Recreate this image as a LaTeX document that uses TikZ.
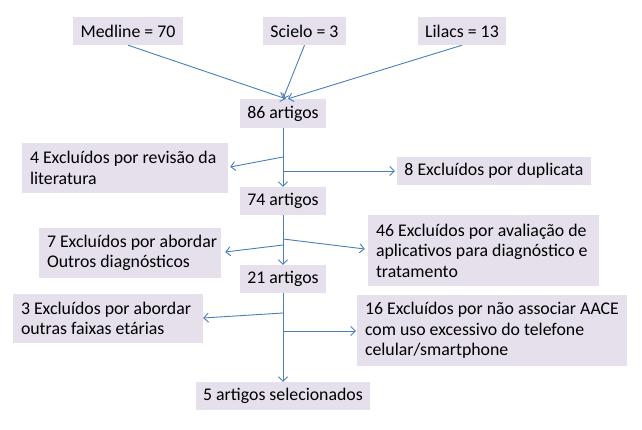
\documentclass[tikz,border=0pt]{standalone}
\usepackage{fontspec}
\setmainfont{Carlito}
\usetikzlibrary{arrows.meta,calc}
\definecolor{boxfill}{HTML}{E6E0EC}
\definecolor{arrowblue}{HTML}{4A7EBB}
\newcommand{\boxline}[1]{\mbox{#1}}
\begin{document}
\begin{tikzpicture}[x=1pt,y=-1pt,
  box/.style={fill=boxfill, draw=none, text=black, font=\fontsize{17.8}{20.5}\selectfont, inner ysep=0pt},
  sbox/.style n args={2}{box, inner xsep=0pt, align=center, minimum width=#1, minimum height=#2},
  mbox/.style n args={2}{box, inner xsep=8pt, align=flush left, text width=#1, minimum height=#2},
  conn/.style={draw=arrowblue, line width=0.9pt, -{Straight Barb[length=4.5pt,width=9pt]}}
]
\useasboundingbox (0,0) rectangle (642,430);

\node[sbox={110pt}{28pt}] (med) at (128,31) {Medline = 70};
\node[sbox={83pt}{28pt}] (sci) at (304.5,31) {Scielo = 3};
\node[sbox={88pt}{28pt}] (lil) at (462,31) {Lilacs = 13};
\node[sbox={86pt}{29pt}] (a86) at (283,113.5) {86 artigos};
\node[mbox={190pt}{50pt}] (e4) at (125,168) {\boxline{4 Excluídos por revisão da}\\\boxline{literatura}};
\node[sbox={194pt}{28pt}] (e8) at (494,171) {8 Excluídos por duplicata};
\node[sbox={86pt}{28pt}] (a74) at (283,201) {74 artigos};
\node[mbox={166pt}{50pt}] (e7) at (130,253) {\boxline{7 Excluídos por abordar}\\\boxline{Outros diagnósticos}};
\node[mbox={215pt}{71pt}] (e46) at (483.5,250.5) {\boxline{46 Excluídos por avaliação de}\\\boxline{aplicativos para diagnóstico e}\\\boxline{tratamento}};
\node[sbox={86pt}{28pt}] (a21) at (283,279) {21 artigos};
\node[mbox={174pt}{49pt}] (e3) at (108,318.5) {\boxline{3 Excluídos por abordar}\\\boxline{outras faixas etárias}};
\node[mbox={254pt}{71pt}] (e16) at (492,330.5) {\boxline{16 Excluídos por não associar AACE}\\\boxline{com uso excessivo do telefone}\\\boxline{celular/smartphone}};
\node[sbox={174pt}{28pt}] (a5) at (283,396) {5 artigos selecionados};

% branch points on the trunk
\coordinate (b4) at (283,157);
\coordinate (b8) at (283,171);
\coordinate (b46) at (283,239);
\coordinate (b7) at (283,245);
\coordinate (b3) at (283,313);
\coordinate (b16) at (283,331);

\draw[conn] (med.south) -- ($(a86.north)+(3,0)$);
\draw[conn] (sci.south) -- (a86.north);
\draw[conn] (lil.south) -- ($(a86.north)+(5,0)$);

\draw[conn] (a86.south) -- (a74.north);
\draw[conn] (b4) -- ($(e4.east)+(2,-1)$);
\draw[conn] (b8) -- ($(b8 -| e8.west)+(-2,0)$);

\draw[conn] (a74.south) -- (a21.north);
\draw[conn] (b7) -- ($(e7.east)+(4,-1)$);
\draw[conn] (b46) -- ($(e46.west)+(-3,-1.5)$);

\draw[conn] (a21.south) -- (a5.north);
\draw[conn] (b3) -- ($(e3.east)+(0,-0.5)$);
\draw[conn] (b16) -- ($(b16 -| e16.west)+(-1,0)$);
\end{tikzpicture}
\end{document}
